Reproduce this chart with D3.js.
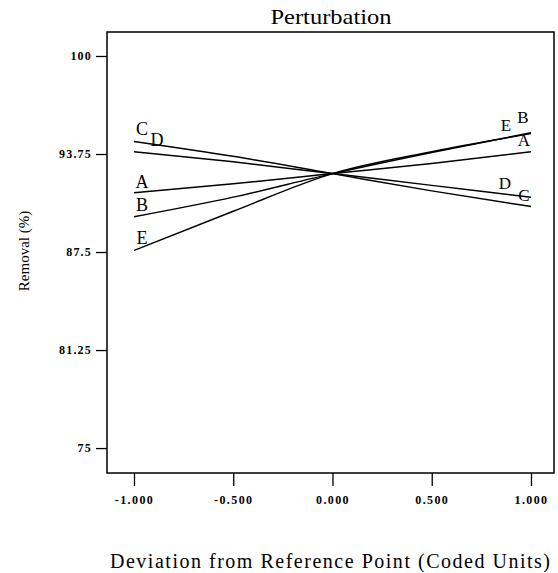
<!DOCTYPE html>
<html><head><meta charset="utf-8">
<script src="https://cdn.jsdelivr.net/npm/d3@7"></script>
<style>body{margin:0;background:#fff}svg{display:block}</style>
</head><body>
<script>
const xValues = [-1, -0.5, 0, 0.5, 1];
const seriesNames = ["A", "B", "C", "D", "E"];
const valuesA = [91.28, 91.85, 92.5, 93.15, 93.9];
const valuesB = [89.75, 91.0, 92.5, 93.85, 95.1];
const valuesC = [94.55, 93.6, 92.5, 91.4, 90.4];
const valuesD = [93.9, 93.25, 92.5, 91.75, 91.0];
const valuesE = [87.6, 90.1, 92.5, 93.9, 95.05];
const yTicks = [75, 81.25, 87.5, 93.75, 100];
const yTickLabels = ["75", "81.25", "87.5", "93.75", "100"];
const xTicks = [-1, -0.5, 0, 0.5, 1];
const xTickLabels = ["-1.000", "-0.500", "0.000", "0.500", "1.000"];
const titleText = "Perturbation";
const xTitle = "Deviation from Reference Point (Coded Units)";
const yTitle = "Removal (%)";

const W = 558, H = 573;
const L = 107, R = 554, T = 32, B = 473;
const svg = d3.select("body").append("svg").attr("width", W).attr("height", H);
const x = d3.scaleLinear().domain([-1.136, 1.116]).range([L, R]);
const y = d3.scaleLinear().domain([73.41, 101.53]).range([B, T]);
const serif = "'Liberation Serif','Times New Roman',serif";

svg.append("rect").attr("x", L).attr("y", T).attr("width", R - L).attr("height", B - T)
  .attr("fill", "none").attr("stroke", "#000").attr("stroke-width", 1.5);

const yAxis = svg.append("g").attr("transform", `translate(${L},0)`)
  .call(d3.axisLeft(y).tickValues(yTicks).tickSize(11).tickPadding(4)
    .tickFormat((d, i) => yTickLabels[i]));
yAxis.select(".domain").remove();
yAxis.selectAll("line").attr("stroke", "#000").attr("stroke-width", 1.3);
yAxis.selectAll("text").attr("font-family", serif).attr("font-weight", "bold")
  .attr("font-size", 12).attr("letter-spacing", "1.2px").attr("fill", "#000");

const xAxis = svg.append("g").attr("transform", `translate(0,${B})`)
  .call(d3.axisBottom(x).tickValues(xTicks).tickSize(13).tickPadding(9)
    .tickFormat((d, i) => xTickLabels[i]));
xAxis.select(".domain").remove();
xAxis.selectAll("line").attr("stroke", "#000").attr("stroke-width", 1.3);
xAxis.selectAll("text").attr("font-family", serif).attr("font-weight", "bold")
  .attr("font-size", 12).attr("letter-spacing", "1.4px").attr("fill", "#000");

const series = [
  {name: "A", v: valuesA, left: [142, 188], right: [524, 146]},
  {name: "B", v: valuesB, left: [142, 211], right: [523, 123]},
  {name: "C", v: valuesC, left: [142, 135], right: [524, 201]},
  {name: "D", v: valuesD, left: [157, 146], right: [505, 189]},
  {name: "E", v: valuesE, left: [142, 244], right: [506, 131]}
];
const line = d3.line().x((d, i) => x(xValues[i])).y(d => y(d)).curve(d3.curveMonotoneX);
series.forEach(s => {
  svg.append("path").attr("d", line(s.v)).attr("fill", "none")
    .attr("stroke", "#000").attr("stroke-width", 1.5);
});
series.forEach(s => {
  svg.append("text").attr("x", s.left[0]).attr("y", s.left[1]).attr("text-anchor", "middle")
    .attr("font-family", serif).attr("font-size", 18).text(s.name);
  svg.append("text").attr("x", s.right[0]).attr("y", s.right[1]).attr("text-anchor", "middle")
    .attr("font-family", serif).attr("font-size", 17).text(s.name);
});

svg.append("text").attr("x", 331).attr("y", 24).attr("text-anchor", "middle")
  .attr("font-family", serif).attr("font-size", 22)
  .attr("textLength", 121).attr("lengthAdjust", "spacingAndGlyphs").text(titleText);

svg.append("text").attr("x", 330).attr("y", 568).attr("text-anchor", "middle")
  .attr("font-family", serif).attr("font-size", 20)
  .attr("textLength", 440).attr("lengthAdjust", "spacing").text(xTitle);

svg.append("text").attr("transform", "translate(29,251) rotate(-90)").attr("text-anchor", "middle")
  .attr("font-family", serif).attr("font-size", 15)
  .text(yTitle);
</script>
</body></html>
